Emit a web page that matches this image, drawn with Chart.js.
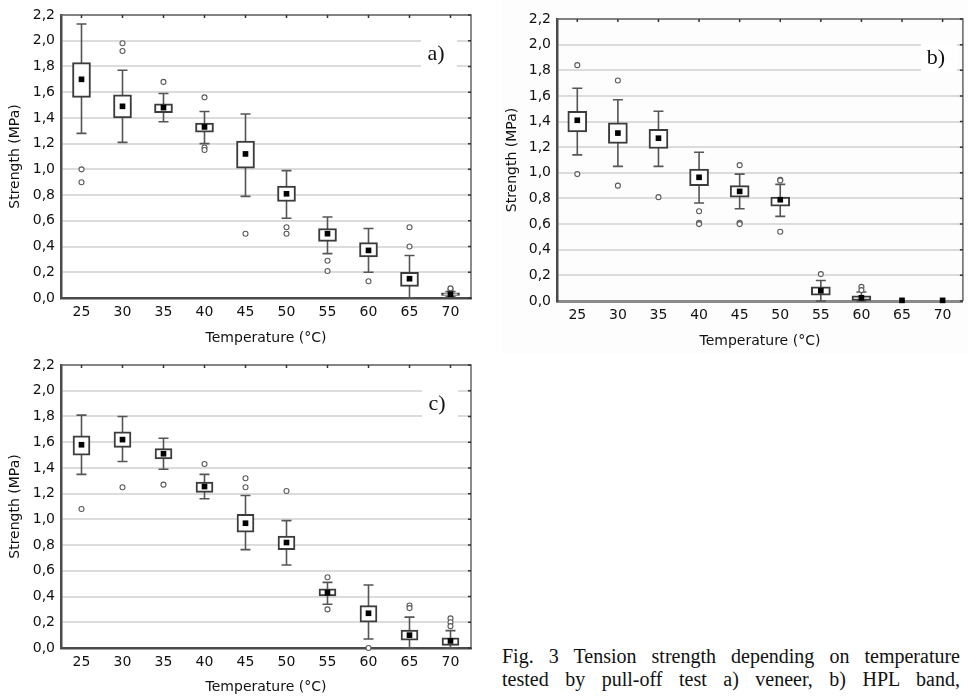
<!DOCTYPE html>
<html>
<head>
<meta charset="utf-8">
<script src="https://cdn.jsdelivr.net/npm/chart.js@4.4.1/dist/chart.umd.min.js"></script>
<style>
  body { margin: 0; background: #fff; width: 968px; height: 696px; position: relative; overflow: hidden; }
  canvas { position: absolute; }
  #chartA { left: 0; top: 0; }
  #chartB { left: 501px; top: 0; background: #fdfdfd; }
  #chartC { left: 0; top: 350px; }
  #caption {
    position: absolute; left: 502px; top: 645px; width: 458px;
    font-family: "Liberation Serif", serif; font-size: 20px; line-height: 23px;
    color: #111;
  }
  #caption div { text-align: justify; text-align-last: justify; }
</style>
</head>
<body>
<canvas id="chartA" width="480" height="350"></canvas>
<canvas id="chartB" width="467" height="354"></canvas>
<canvas id="chartC" width="480" height="346"></canvas>
<div id="caption">
  <div>Fig. 3 Tension strength depending on temperature</div>
  <div>tested by pull-off test a) veneer, b) HPL band,</div>
</div>
<script>
// categories + axis ticks
const temps = ["25", "30", "35", "40", "45", "50", "55", "60", "65", "70"];
const yTickValues = [0, 0.2, 0.4, 0.6, 0.8, 1.0, 1.2, 1.4, 1.6, 1.8, 2.0, 2.2];
const yTickLabels = ["0,0", "0,2", "0,4", "0,6", "0,8", "1,0", "1,2", "1,4", "1,6", "1,8", "2,0", "2,2"];

// a) veneer
const aMin  = [1.28, 1.21, 1.37, 1.20, 0.79, 0.62, 0.345, 0.20, 0.00, 0.01];
const aQ1   = [1.56, 1.40, 1.44, 1.29, 1.01, 0.75, 0.44, 0.32, 0.09, 0.02];
const aQ3   = [1.83, 1.58, 1.51, 1.36, 1.22, 0.87, 0.54, 0.43, 0.20, 0.04];
const aMax  = [2.13, 1.77, 1.59, 1.45, 1.43, 0.99, 0.63, 0.54, 0.33, 0.05];
const aMean = [1.70, 1.49, 1.48, 1.33, 1.12, 0.81, 0.50, 0.37, 0.15, 0.03];
const aOutliers = [
  ["25", 1.00], ["25", 0.90], ["30", 1.98], ["30", 1.92], ["35", 1.68],
  ["40", 1.56], ["40", 1.17], ["40", 1.15], ["45", 0.50], ["50", 0.55],
  ["50", 0.50], ["55", 0.29], ["55", 0.21], ["60", 0.13], ["65", 0.55],
  ["65", 0.40], ["70", 0.065], ["70", 0.075]
];

// b) HPL band
const bMin  = [1.14, 1.05, 1.05, 0.765, 0.72, 0.66, 0.00, 0.00, null, null];
const bQ1   = [1.32, 1.23, 1.19, 0.90, 0.81, 0.74, 0.045, 0.005, null, null];
const bQ3   = [1.48, 1.39, 1.34, 1.03, 0.90, 0.81, 0.11, 0.04, null, null];
const bMax  = [1.66, 1.57, 1.48, 1.16, 0.99, 0.91, 0.16, 0.07, null, null];
const bMean = [1.41, 1.31, 1.27, 0.965, 0.855, 0.79, 0.08, 0.025, 0.005, 0.005];
const bOutliers = [
  ["25", 1.84], ["25", 0.99], ["30", 1.72], ["30", 0.90], ["35", 0.81],
  ["40", 0.70], ["40", 0.61], ["40", 0.60], ["45", 1.06], ["45", 0.61],
  ["45", 0.60], ["50", 0.945], ["50", 0.94], ["50", 0.54], ["55", 0.21],
  ["60", 0.11], ["60", 0.085]
];

// c)
const cMin  = [1.35, 1.45, 1.39, 1.16, 0.765, 0.645, 0.34, 0.07, 0.00, 0.00];
const cQ1   = [1.50, 1.56, 1.47, 1.21, 0.90, 0.765, 0.405, 0.20, 0.06, 0.02];
const cQ3   = [1.65, 1.68, 1.55, 1.29, 1.04, 0.87, 0.46, 0.33, 0.14, 0.08];
const cMax  = [1.81, 1.80, 1.63, 1.35, 1.185, 0.99, 0.51, 0.49, 0.24, 0.135];
const cMean = [1.58, 1.62, 1.51, 1.255, 0.97, 0.82, 0.43, 0.27, 0.10, 0.055];
const cOutliers = [
  ["25", 1.08], ["30", 1.25], ["35", 1.27], ["40", 1.43], ["45", 1.32],
  ["45", 1.25], ["50", 1.22], ["55", 0.55], ["55", 0.30], ["60", 0.00],
  ["65", 0.33], ["65", 0.31], ["70", 0.23], ["70", 0.20], ["70", 0.17]
];

const FONT = "'DejaVu Sans', sans-serif";

// whiskers under the boxes, frame + panel letter on top
const boxPlotPlugin = {
  id: "boxPlot",
  beforeDatasetsDraw(chart, args, opts) {
    const { ctx, scales: { x, y } } = chart;
    ctx.save();
    ctx.strokeStyle = "#555";
    ctx.lineWidth = 1.6;
    opts.min.forEach((lo, i) => {
      const hi = opts.max[i];
      if (lo == null || hi == null) return;
      const cx = x.getPixelForValue(i);
      const yLo = y.getPixelForValue(lo);
      const yHi = y.getPixelForValue(hi);
      ctx.beginPath();
      ctx.moveTo(cx, yLo); ctx.lineTo(cx, yHi);
      ctx.moveTo(cx - 5, yLo); ctx.lineTo(cx + 5, yLo);
      ctx.moveTo(cx - 5, yHi); ctx.lineTo(cx + 5, yHi);
      ctx.stroke();
    });
    ctx.restore();
  },
  afterDraw(chart, args, opts) {
    const { ctx, chartArea: a, scales: { x, y } } = chart;
    ctx.save();
    // top + right frame
    ctx.strokeStyle = "#666";
    ctx.lineWidth = 1.5;
    ctx.beginPath();
    ctx.moveTo(a.left, a.top); ctx.lineTo(a.right, a.top); ctx.lineTo(a.right, a.bottom);
    ctx.stroke();
    // little ticks on the frame
    ctx.strokeStyle = "#333";
    ctx.beginPath();
    yTickValues.forEach((v) => {
      const py = y.getPixelForValue(v);
      ctx.moveTo(a.right - 3, py); ctx.lineTo(a.right, py);
    });
    temps.forEach((t, i) => {
      const px = x.getPixelForValue(i);
      ctx.moveTo(px, a.top); ctx.lineTo(px, a.top + 3);
    });
    ctx.stroke();
    // panel letter
    const lx = a.right - opts.labelDx;
    const ly = a.top + opts.labelDy;
    ctx.fillStyle = "#fff";
    ctx.fillRect(lx - 15, ly - 14, 36, 28);
    ctx.font = "22px 'Liberation Serif', serif";
    ctx.fillStyle = "#111";
    ctx.textAlign = "center";
    ctx.textBaseline = "middle";
    ctx.fillText(opts.letter, lx, ly);
    ctx.restore();
  }
};

function makePanel(id, min, q1, q3, max, mean, outliers, cfg) {
  const ctx = document.getElementById(id).getContext("2d");
  return new Chart(ctx, {
    data: {
      labels: temps,
      datasets: [
        {
          type: "bar",
          data: temps.map((t, i) => (q1[i] == null ? null : [q1[i], q3[i]])),
          backgroundColor: "#fff",
          borderColor: "#3c3c3c",
          borderWidth: 2,
          borderSkipped: false,
          barThickness: cfg.boxWidth,
          order: 3
        },
        {
          type: "line",
          data: outliers.map((o) => ({ x: o[0], y: o[1] })),
          showLine: false,
          pointStyle: "circle",
          pointRadius: 2.5,
          pointBorderWidth: 1.1,
          pointBorderColor: "#5a5a5a",
          pointBackgroundColor: "#fff",
          clip: false,
          order: 2
        },
        {
          type: "line",
          data: mean,
          showLine: false,
          pointStyle: "rect",
          pointRadius: 4,
          pointBorderWidth: 0,
          pointBackgroundColor: "#000",
          clip: false,
          order: 1
        }
      ]
    },
    options: {
      responsive: false,
      devicePixelRatio: 1,
      animation: false,
      events: [],
      layout: { padding: { top: cfg.top, right: cfg.right, bottom: 0, left: 0 } },
      plugins: {
        legend: { display: false },
        tooltip: { enabled: false },
        boxPlot: { min: min, max: max, letter: cfg.letter, labelDx: cfg.labelDx, labelDy: cfg.labelDy }
      },
      scales: {
        x: {
          type: "category",
          offset: true,
          grid: { display: false, drawTicks: false },
          border: { display: true, color: cfg.xBorder, width: cfg.xBorderWidth },
          ticks: { font: { family: FONT, size: 14 }, color: "#111", padding: 6 },
          title: {
            display: true,
            text: "Temperature (°C)",
            font: { family: FONT, size: 14 },
            color: "#111",
            padding: { top: 0, bottom: cfg.xTitlePad }
          },
          afterFit: (s) => { s.height = cfg.xHeight; }
        },
        y: {
          min: 0,
          max: 2.2,
          afterBuildTicks: (s) => { s.ticks = yTickValues.map((v) => ({ value: v })); },
          grid: { color: "#dcdcdc", lineWidth: 2, drawTicks: false },
          border: { display: true, color: "#4a4a4a", width: 2.5 },
          ticks: {
            font: { family: FONT, size: 14 },
            color: "#111",
            padding: 6,
            callback: (v, i) => yTickLabels[i]
          },
          title: {
            display: true,
            text: "Strength (MPa)",
            font: { family: FONT, size: 14 },
            color: "#111",
            padding: { top: cfg.yTitlePad, bottom: 0 }
          },
          afterFit: (s) => { s.width = cfg.yWidth; }
        }
      }
    },
    plugins: [boxPlotPlugin]
  });
}

makePanel("chartA", aMin, aQ1, aQ3, aMax, aMean, aOutliers, {
  top: 15, right: 9, yWidth: 61, xHeight: 52, yTitlePad: 6.6, xTitlePad: 3.6,
  boxWidth: 18, letter: "a)", labelDx: 35, labelDy: 39, xBorder: "#4a4a4a", xBorderWidth: 2.5
});
makePanel("chartB", bMin, bQ1, bQ3, bMax, bMean, bOutliers, {
  top: 19, right: 0, yWidth: 56, xHeight: 53, yTitlePad: 2.6, xTitlePad: 4.6,
  boxWidth: 19, letter: "b)", labelDx: 27, labelDy: 39, xBorder: "#8a8a8a", xBorderWidth: 3
});
makePanel("chartC", cMin, cQ1, cQ3, cMax, cMean, cOutliers, {
  top: 15, right: 9, yWidth: 61, xHeight: 48, yTitlePad: 6.6, xTitlePad: 0,
  boxWidth: 17, letter: "c)", labelDx: 34, labelDy: 39, xBorder: "#4a4a4a", xBorderWidth: 2.5
});
</script>
</body>
</html>
